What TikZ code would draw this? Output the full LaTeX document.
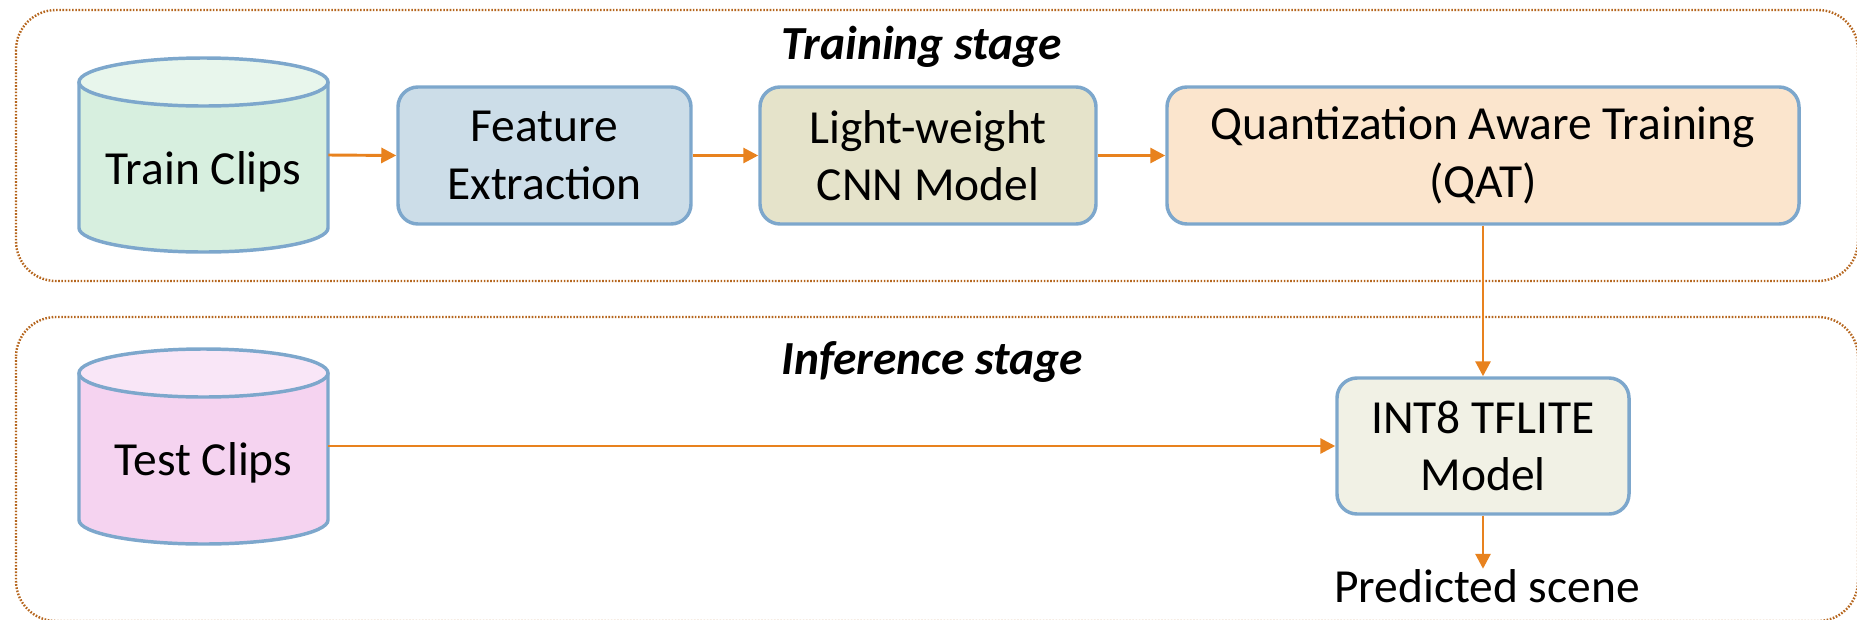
\documentclass[tikz,border=0pt]{standalone}
\usepackage{fontspec}
\setmainfont{Carlito}
\usetikzlibrary{arrows.meta}
\definecolor{framecol}{HTML}{B5651D}
\definecolor{arrowcol}{HTML}{E8821E}
\definecolor{bordercol}{HTML}{7DA7CC}
\definecolor{trainbody}{HTML}{D7EFDF}
\definecolor{traintop}{HTML}{E8F6EC}
\definecolor{testbody}{HTML}{F5D3F0}
\definecolor{testtop}{HTML}{F9E6F7}
\definecolor{fecol}{HTML}{CCDDE8}
\definecolor{cnncol}{HTML}{E5E3CA}
\definecolor{qatcol}{HTML}{FBE5CD}
\definecolor{intcol}{HTML}{F1F1E5}
\tikzset{
  x=0.75pt, y=-0.75pt,
  bigfont/.style={font=\fontsize{35.6pt}{43.1pt}\selectfont},
  stagebox/.style={draw=framecol, line width=1.8pt, dash pattern=on 1.2pt off 1.2pt, rounded corners=30pt},
  procbox/.style={draw=bordercol, line width=2.6pt, rounded corners=15pt, align=center, bigfont,
    minimum height=102.75pt, inner sep=0pt},
  cylbody/.style={draw=bordercol, line width=2.6pt},
  cylarea/.style={inner sep=0pt, minimum width=186.75pt, minimum height=145.5pt},
  flow/.style={draw=arrowcol, line width=2.2pt, -{Triangle[length=11.25pt,width=11.25pt]}},
  lbl/.style={bigfont, anchor=base, inner sep=0pt},
}
\begin{document}
\begin{tikzpicture}
\useasboundingbox (0,0) rectangle (1857,619);
% stage frames
\draw[stagebox] (16,10) rectangle (1858,281);
\draw[stagebox] (16,317) rectangle (1858,621);
\node[lbl, font=\fontsize{35.6pt}{43.1pt}\selectfont\bfseries\itshape] (trainstage) at (922,59) {Training stage};
\node[lbl, font=\fontsize{35.6pt}{43.1pt}\selectfont\bfseries\itshape] (infstage) at (932,374) {Inference stage};
% Train cylinder
\fill[trainbody] (79,82) -- (79,228) arc[start angle=180, end angle=0, x radius=124.5, y radius=24] -- (328,82) -- cycle;
\draw[cylbody] (79,82) -- (79,228) arc[start angle=180, end angle=0, x radius=124.5, y radius=24] -- (328,82);
\draw[cylbody, fill=traintop] (203.5,82) ellipse [x radius=124.5, y radius=24];
\node[cylarea] (train) at (203.5,155) {};
\node[lbl] (trainlbl) at (203.5,184) {Train Clips};
% Test cylinder
\fill[testbody] (79,373) -- (79,520) arc[start angle=180, end angle=0, x radius=124.5, y radius=24] -- (328,373) -- cycle;
\draw[cylbody] (79,373) -- (79,520) arc[start angle=180, end angle=0, x radius=124.5, y radius=24] -- (328,373);
\draw[cylbody, fill=testtop] (203.5,373) ellipse [x radius=124.5, y radius=24];
\node[cylarea] (test) at (203.5,446) {};
\node[lbl] (testlbl) at (203.5,475) {Test Clips};
% process boxes
\node[procbox, fill=fecol, minimum width=219.75pt] (fe) at (544.5,155.5) {Feature\\Extraction};
\node[procbox, fill=cnncol, minimum width=252pt] (cnn) at (928,155.5) {Light-weight\\CNN Model};
\node[procbox, fill=qatcol, minimum width=474pt] (qat) at (1483,155.5) {Quantization Aware Training\\(QAT)};
\node[procbox, fill=intcol, minimum width=219pt, minimum height=102pt] (int8) at (1483,446) {INT8 TFLITE\\Model};
\node[lbl] (pred) at (1487,602) {Predicted scene};
% connectors
\draw[flow] (train.east) -- (fe.west);
\draw[flow] (fe.east) -- (cnn.west);
\draw[flow] (cnn.east) -- (qat.west);
\draw[flow] (qat.south) -- (int8.north);
\draw[flow] (test.east) -- (int8.west);
\draw[flow] (int8.south) -- (int8.south |- pred.north);
\end{tikzpicture}
\end{document}
